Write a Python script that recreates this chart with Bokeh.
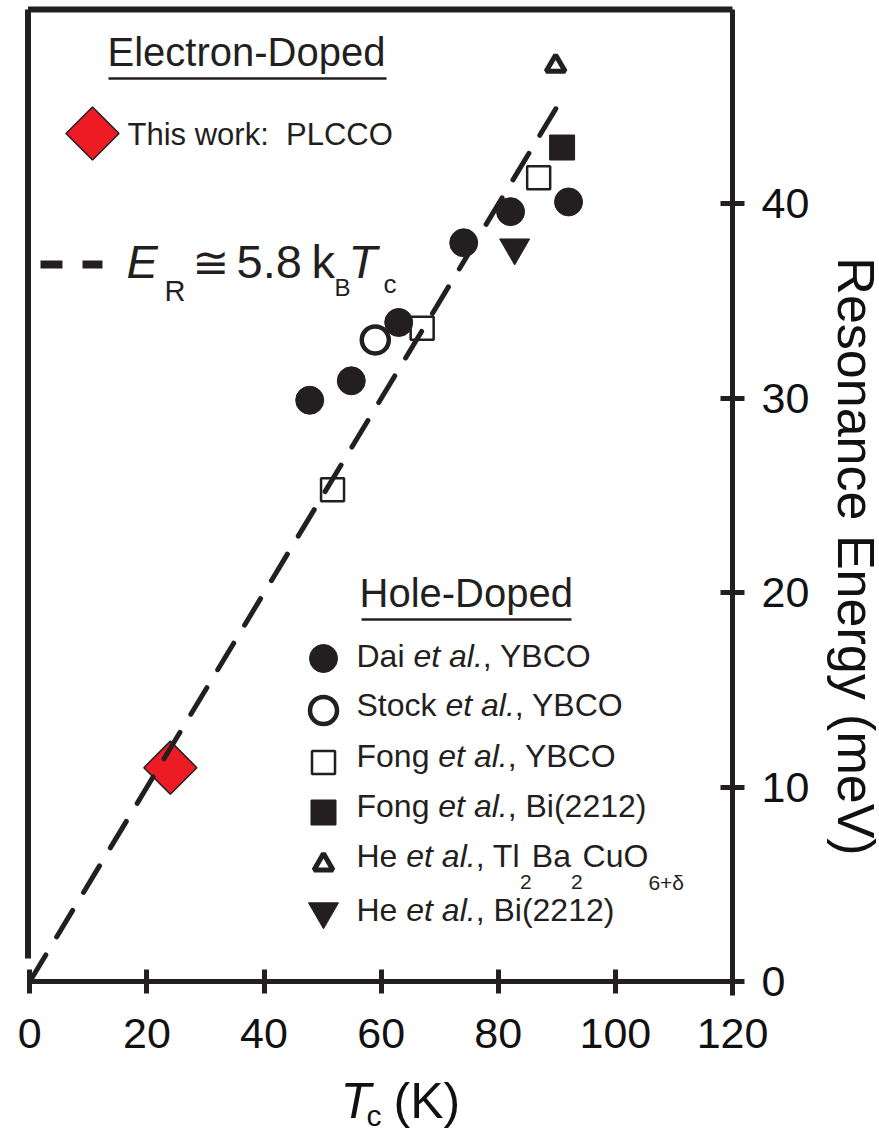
import numpy as np
from bokeh.plotting import figure
from bokeh.models import Range1d, FixedTicker, Label
from bokeh.embed import file_html
from bokeh.resources import INLINE

# ---------------- data ----------------
plcco_tc = [24.0]
plcco_er = [11.0]
dai_tc = [47.8, 54.9, 63.0, 74.1, 82.1, 92.0]
dai_er = [29.9, 30.9, 33.9, 38.0, 39.6, 40.1]
stock_tc = [59.0]
stock_er = [33.0]
fong_ybco_tc = [51.7, 67.0, 86.9]
fong_ybco_er = [25.3, 33.6, 41.35]
fong_bi_tc = [90.9]
fong_bi_er = [42.9]
he_tl_tc = [89.8]
he_tl_er = [47.1]
he_bi_tc = [82.8]
he_bi_er = [37.75]
fit_coeff = 5.8          # E_R = 5.8 k_B Tc
k_B = 0.08617            # meV/K
fit_tc = [0.0, 91.5]
x_ticks = [0, 20, 40, 60, 80, 100, 120]
y_ticks = [0, 10, 20, 30, 40]

INK = "#231f20"
RED = "#ed1c24"
FONT = "Liberation Sans"

# canvas geometry (pixels) -> data mapping
CW, CH = 879, 1135
X0, SX = 29.3, 702.7 / 120.0      # pixel of Tc=0, pixels per K
Y0, SY = 981.0, 972.0 / 50.0       # pixel of E=0, pixels per meV
def dx(px):
    return (px - X0) / SX
def dy(py):
    return (Y0 - py) / SY

p = figure(width=CW, height=CH,
           x_range=Range1d(dx(0), dx(CW)), y_range=Range1d(dy(CH), dy(0)),
           y_axis_location="right", output_backend="svg", toolbar_location=None,
           min_border=0, background_fill_color="white", border_fill_color="white")
p.xgrid.visible = False
p.ygrid.visible = False
p.outline_line_color = None

for ax, ticks in ((p.xaxis[0], x_ticks), (p.yaxis[0], y_ticks)):
    ax.ticker = FixedTicker(ticks=ticks)
    ax.axis_line_width = 5
    ax.axis_line_color = INK
    ax.major_tick_line_width = 5
    ax.major_tick_line_color = INK
    ax.major_tick_in = 12
    ax.major_tick_out = 12
    ax.minor_tick_line_color = None
    ax.major_label_text_font = FONT
    ax.major_label_text_font_size = "43px"
    ax.major_label_text_color = "#111111"
p.xaxis[0].fixed_location = 0
p.xaxis[0].bounds = (0, 121.9)
p.xaxis[0].major_label_standoff = 25
p.yaxis[0].fixed_location = 120
p.yaxis[0].bounds = (-0.72, 50)
p.yaxis[0].major_label_standoff = 17

# frame: top and left border lines
p.segment([dx(27.5), dx(27.5)], [50, 50], [120, dx(27.5)], [50, dy(958)],
          line_color=INK, line_width=6)

W = {' ': 278, '\u00a0': 278, '(': 333, ')': 333, '+': 584, ',': 278, '-': 333, '.': 278, ':': 278,
     'A': 667, 'B': 667, 'C': 722, 'D': 722, 'E': 667, 'F': 611, 'H': 722, 'K': 667,
     'L': 556, 'O': 778, 'P': 667, 'R': 722, 'S': 667, 'T': 611, 'Y': 667,
     'a': 556, 'c': 500, 'd': 556, 'e': 556, 'g': 556, 'h': 556, 'i': 222, 'k': 500,
     'l': 222, 'n': 556, 'o': 556, 'p': 556, 'r': 333, 's': 500, 't': 278, 'u': 556,
     'w': 722, 'δ': 556}
def tw(txt, size):
    return sum(W.get(ch, 556) for ch in txt) * size / 1000.0

BASE_FIX = 0.4  # compensation for label baseline placement
def lab(x_px, base_px, txt, size, style="normal", font=FONT, color=INK):
    p.add_layout(Label(x=dx(x_px), y=dy(base_px - BASE_FIX * size), text=txt, text_font=font,
                       text_font_size=f"{size}px", text_font_style=style,
                       text_color=color, text_baseline="alphabetic", text_align="left"))

def rich(x_px, base_px, parts, size, sub_size, sub_drop):
    x = x_px
    for txt, st in parts:
        if st == "sub":
            lab(x, base_px + sub_drop, txt, sub_size)
            x += tw(txt, sub_size)
        else:
            lab(x, base_px, txt, size, st)
            x += tw(txt, size)

# ---------------- data marks ----------------
p.scatter(plcco_tc, plcco_er, marker="square", angle=np.pi / 4, size=37.5,
          fill_color=RED, line_color=INK, line_width=1.5)
fit_er = [fit_coeff * k_B * t for t in fit_tc]
p.line(fit_tc, fit_er, line_color=INK, line_width=5, line_dash="31 21", line_cap="round")
p.scatter(dai_tc, dai_er, marker="circle", size=28, fill_color=INK, line_color=INK)
p.scatter(stock_tc, stock_er, marker="circle", size=27, fill_color=None, line_color=INK, line_width=4.5)
p.scatter(fong_ybco_tc, fong_ybco_er, marker="square", size=23, fill_color=None, line_color=INK, line_width=2.5)
p.scatter(fong_bi_tc, fong_bi_er, marker="square", size=25, fill_color=INK, line_color=INK)
p.scatter(he_tl_tc, he_tl_er, marker="triangle", size=19, fill_color="white", line_color=INK, line_width=5)
p.scatter(he_bi_tc, he_bi_er, marker="inverted_triangle", size=30, fill_color=INK, line_color=INK)

# ---------------- electron-doped legend ----------------
lab(107, 67, "Electron-Doped", 40)
p.segment([dx(108)], [dy(78)], [dx(386)], [dy(78)], line_color=INK, line_width=2.5)
p.scatter([dx(92)], [dy(133)], marker="square", angle=np.pi / 4, size=37.5,
          fill_color=RED, line_color=INK, line_width=1.5)
lab(127, 146, "This work:\u00a0 PLCCO", 31)

# ---------------- fit formula ----------------
p.line([dx(40), dx(102)], [dy(264), dy(264)], line_color=INK, line_width=8, line_dash="22 20")
lab(126, 280, "E", 47, "italic")
lab(164, 302, "R", 29)
lab(192, 280, "\u2245", 44, font="DejaVu Sans")
lab(236, 280, "5.8", 47)
lab(311, 280, "k", 47)
lab(334, 297, "B", 24)
lab(348, 280, "T", 47, "italic")
lab(383, 294, "c", 26)

# ---------------- hole-doped legend ----------------
lab(359, 608, "Hole-Doped", 40)
p.segment([dx(361)], [dy(619)], [dx(571)], [dy(619)], line_color=INK, line_width=2.5)

MX = 323
p.scatter([dx(MX)], [dy(658)], marker="circle", size=28, fill_color=INK, line_color=INK)
p.scatter([dx(MX)], [dy(710)], marker="circle", size=27, fill_color=None, line_color=INK, line_width=4.5)
p.scatter([dx(MX)], [dy(762)], marker="square", size=23, fill_color=None, line_color=INK, line_width=2.5)
p.scatter([dx(MX)], [dy(812)], marker="square", size=25, fill_color=INK, line_color=INK)
p.scatter([dx(MX)], [dy(864)], marker="triangle", size=19, fill_color="white", line_color=INK, line_width=5)
p.scatter([dx(MX)], [dy(911)], marker="inverted_triangle", size=30, fill_color=INK, line_color=INK)

TX, FS = 356, 32
rich(TX, 668, [("Dai ", "normal"), ("et al.", "italic"), (", YBCO", "normal")], FS, 21, 22)
rich(TX, 717, [("Stock ", "normal"), ("et al.", "italic"), (", YBCO", "normal")], FS, 21, 22)
rich(TX, 768, [("Fong ", "normal"), ("et al.", "italic"), (", YBCO", "normal")], FS, 21, 22)
rich(TX, 818, [("Fong ", "normal"), ("et al.", "italic"), (", Bi(2212)", "normal")], FS, 21, 22)
rich(TX, 868, [("He ", "normal"), ("et al.", "italic"), (", Tl", "normal"), ("2", "sub"),
               ("Ba", "normal"), ("2", "sub"), ("CuO", "normal"), ("6+\u03b4", "sub")], FS, 21, 22)
rich(TX, 922, [("He ", "normal"), ("et al.", "italic"), (", Bi(2212)", "normal")], FS, 21, 22)

# ---------------- axis titles ----------------
lab(340, 1120, "T", 50, "italic", color="#111111")
lab(366, 1127, "c", 30, color="#111111")
lab(393, 1120, "(K)", 50, color="#111111")

p.add_layout(Label(x=dx(855), y=dy(556), text="Resonance Energy (meV)", angle=-np.pi / 2,
                   text_font=FONT, text_font_size="52px", text_color="#111111",
                   text_align="center", text_baseline="middle"))

open("out.html", "w").write(file_html(p, INLINE))
